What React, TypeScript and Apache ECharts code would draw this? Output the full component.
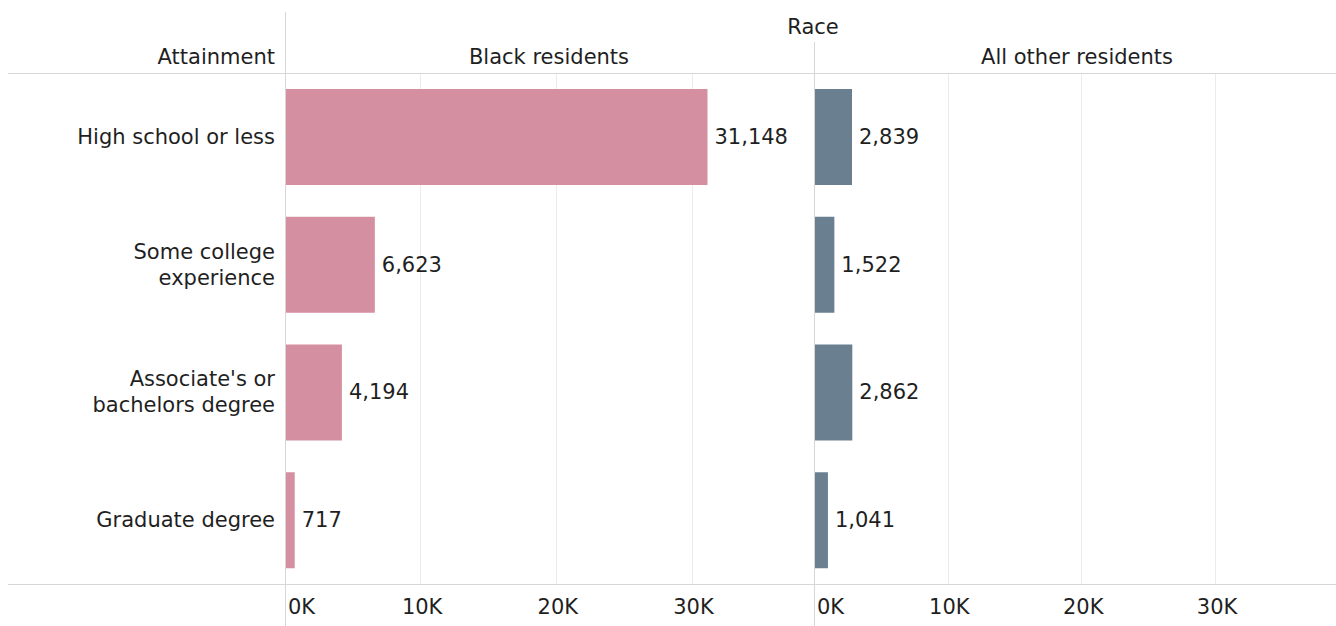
import React, { useEffect, useRef } from "react";
import * as echarts from "echarts";

const categories = [
  "High school or less",
  "Some college\nexperience",
  "Associate's or\nbachelors degree",
  "Graduate degree",
];
const blackResidents = [31148, 6623, 4194, 717];
const otherResidents = [2839, 1522, 2862, 1041];
const panelTitles = ["Black residents", "All other residents"];
const tickStep = 10000;

const FONT = "'DejaVu Sans', 'Open Sans', sans-serif";
const FS = 21;
const TXT = "#1f1f1f";
const PINK = "#d48fa0";
const SLATE = "#6a8091";

export default function App() {
  const ref = useRef<HTMLDivElement>(null);
  useEffect(() => {
    if (!ref.current) return;
    const chart = echarts.init(ref.current, undefined, { renderer: "svg" });
    const fmt = (v: number) => (v % tickStep === 0 ? v / 1000 + "K" : "");
    const xAxisBase = (gi: number) => ({
      type: "value" as const,
      gridIndex: gi,
      min: 0,
      max: 39000,
      interval: tickStep,
      axisLine: { show: false },
      axisTick: { show: false },
      splitLine: { show: true, lineStyle: { color: "#ebebeb", width: 1 } },
      axisLabel: {
        formatter: fmt,
        color: TXT,
        fontFamily: FONT,
        fontSize: FS,
        margin: 12,
        alignMinLabel: "left",
        showMaxLabel: false,
        padding: [0, 0, 0, 3],
      },
    });
    const yAxisBase = (gi: number, show: boolean) => ({
      type: "category" as const,
      gridIndex: gi,
      data: categories,
      inverse: true,
      axisLine: { show: false },
      axisTick: { show: false },
      splitLine: { show: false },
      axisLabel: {
        show,
        color: TXT,
        fontFamily: FONT,
        fontSize: FS,
        lineHeight: 26,
        margin: 10,
        align: "right" as const,
      },
    });
    const labelCfg = {
      show: true,
      position: "right" as const,
      distance: 7,
      color: TXT,
      fontFamily: FONT,
      fontSize: FS,
      formatter: (p: any) => Number(p.value).toLocaleString("en-US"),
    };
    const lineStyle = { stroke: "#d6d6d6", lineWidth: 1 };
    const font = `${FS}px ${FONT}`;
    chart.setOption({
      animation: false,
      grid: [
        { left: 285, top: 73, width: 529, height: 511 },
        { left: 814, top: 73, width: 529, height: 511 },
      ],
      xAxis: [xAxisBase(0), xAxisBase(1)],
      yAxis: [yAxisBase(0, true), yAxisBase(1, false)],
      series: [
        {
          type: "bar",
          xAxisIndex: 0,
          yAxisIndex: 0,
          data: blackResidents,
          barWidth: 96,
          itemStyle: { color: PINK },
          label: labelCfg,
        },
        {
          type: "bar",
          xAxisIndex: 1,
          yAxisIndex: 1,
          data: otherResidents,
          barWidth: 96,
          itemStyle: { color: SLATE },
          label: labelCfg,
        },
      ],
      graphic: [
        { type: "line", shape: { x1: 8, y1: 73.5, x2: 1336, y2: 73.5 }, style: lineStyle, z: 10 },
        { type: "line", shape: { x1: 8, y1: 584.5, x2: 1336, y2: 584.5 }, style: lineStyle, z: 10 },
        { type: "line", shape: { x1: 285.5, y1: 12, x2: 285.5, y2: 626 }, style: lineStyle, z: 10 },
        { type: "line", shape: { x1: 814.5, y1: 42, x2: 814.5, y2: 626 }, style: lineStyle, z: 10 },
        {
          type: "text",
          x: 813,
          y: 27,
          style: { text: "Race", fill: TXT, font, textAlign: "center", textVerticalAlign: "middle" },
        },
        {
          type: "text",
          x: 275,
          y: 57,
          style: { text: "Attainment", fill: TXT, font, textAlign: "right", textVerticalAlign: "middle" },
        },
        {
          type: "text",
          x: 549,
          y: 57,
          style: { text: panelTitles[0], fill: TXT, font, textAlign: "center", textVerticalAlign: "middle" },
        },
        {
          type: "text",
          x: 1077,
          y: 57,
          style: { text: panelTitles[1], fill: TXT, font, textAlign: "center", textVerticalAlign: "middle" },
        },
      ],
    });
    return () => chart.dispose();
  }, []);
  return (
    <div
      ref={ref}
      style={{ position: "absolute", left: 0, top: 0, width: 1336, height: 626, background: "#fff" }}
    />
  );
}
